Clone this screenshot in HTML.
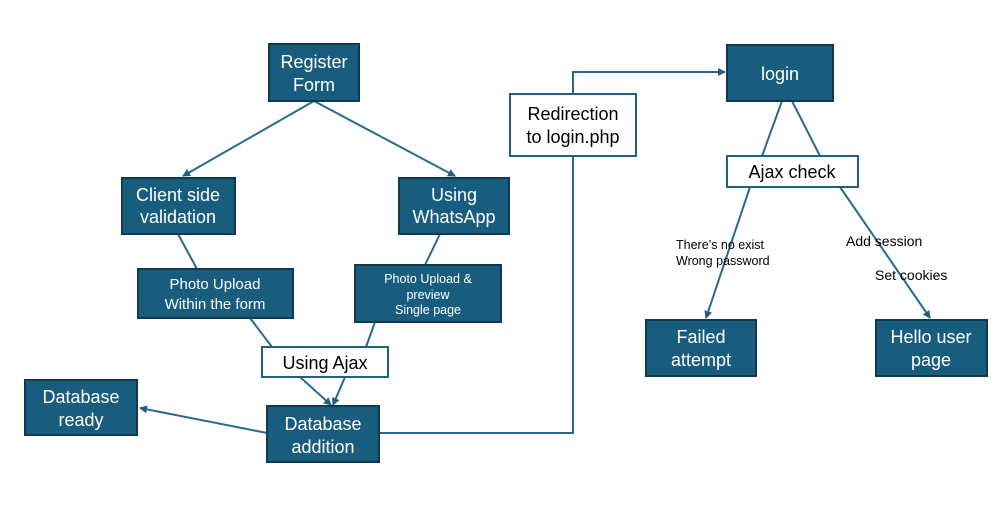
<!DOCTYPE html>
<html><head><style>
body{margin:0;background:#fff;}
svg{display:block;font-family:"Liberation Sans",sans-serif;}
</style></head><body>
<svg width="1005" height="520" viewBox="0 0 1005 520">
<defs><marker id="a" markerWidth="8" markerHeight="8" refX="7" refY="4" orient="auto" markerUnits="userSpaceOnUse"><path d="M0,0 L8,4 L0,8 z" fill="#1f5f80"/></marker></defs>
<g stroke="#2a6a8a" stroke-width="2" fill="none">
<line x1="314" y1="101" x2="183" y2="176" marker-end="url(#a)"/>
<line x1="314" y1="101" x2="455" y2="176" marker-end="url(#a)"/>
<line x1="178" y1="234" x2="197" y2="269"/>
<line x1="440" y1="234" x2="425" y2="265"/>
<line x1="250" y1="318" x2="272" y2="347"/>
<line x1="375" y1="322" x2="366" y2="347"/>
<line x1="300" y1="377" x2="331" y2="405" marker-end="url(#a)"/>
<line x1="345" y1="377" x2="333" y2="405" marker-end="url(#a)"/>
<line x1="267" y1="433" x2="140" y2="408" marker-end="url(#a)"/>
<polyline points="379,433 573,433 573,156"/>
<polyline points="573,94 573,72 725,72" marker-end="url(#a)"/>
<line x1="782" y1="101" x2="762" y2="156"/>
<line x1="792" y1="101" x2="820" y2="156"/>
<line x1="750" y1="187" x2="706" y2="318" marker-end="url(#a)"/>
<line x1="840" y1="187" x2="930" y2="318" marker-end="url(#a)"/>
</g>
<g fill="#185c7e" stroke="#0f3a52" stroke-width="2">
<rect x="269" y="44" width="90" height="57"/>
<rect x="122" y="178" width="113" height="56"/>
<rect x="399" y="178" width="110" height="56"/>
<rect x="138" y="269" width="155" height="49"/>
<rect x="355" y="265" width="146" height="57"/>
<rect x="267" y="406" width="112" height="56"/>
<rect x="25" y="380" width="112" height="55"/>
<rect x="727" y="45" width="106" height="56"/>
<rect x="646" y="320" width="110" height="56"/>
<rect x="876" y="320" width="111" height="56"/>
</g>
<g fill="#fff" stroke="#1f5f80" stroke-width="2">
<rect x="262" y="347" width="126" height="30"/>
<rect x="510" y="94" width="126" height="62"/>
<rect x="727" y="156" width="131" height="31"/>
</g>
<g fill="#fff" font-size="18" text-anchor="middle">
<text x="314" y="68">Register</text><text x="314" y="91">Form</text>
<text x="178" y="201">Client side</text><text x="178" y="223">validation</text>
<text x="454" y="201">Using</text><text x="454" y="223">WhatsApp</text>
<text x="215" y="289" font-size="15">Photo Upload</text><text x="215" y="309" font-size="15">Within the form</text>
<text x="428" y="283" font-size="12.5">Photo Upload &amp;</text><text x="428" y="299" font-size="12.5">preview</text><text x="428" y="314" font-size="12.5">Single page</text>
<text x="323" y="430">Database</text><text x="323" y="453">addition</text>
<text x="81" y="403">Database</text><text x="81" y="426">ready</text>
<text x="780" y="80">login</text>
<text x="701" y="343">Failed</text><text x="701" y="366">attempt</text>
<text x="931" y="343">Hello user</text><text x="931" y="366">page</text>
</g>
<g fill="#000" font-size="18" text-anchor="middle">
<text x="325" y="369">Using Ajax</text>
<text x="573" y="120">Redirection</text><text x="573" y="143">to login.php</text>
<text x="792" y="178">Ajax check</text>
</g>
<g fill="#000" font-size="12.5">
<text x="676" y="249">There’s no exist</text><text x="676" y="265">Wrong password</text>
<text x="846" y="246" font-size="14">Add session</text>
<text x="875" y="280" font-size="14">Set cookies</text>
</g>
</svg>
</body></html>
